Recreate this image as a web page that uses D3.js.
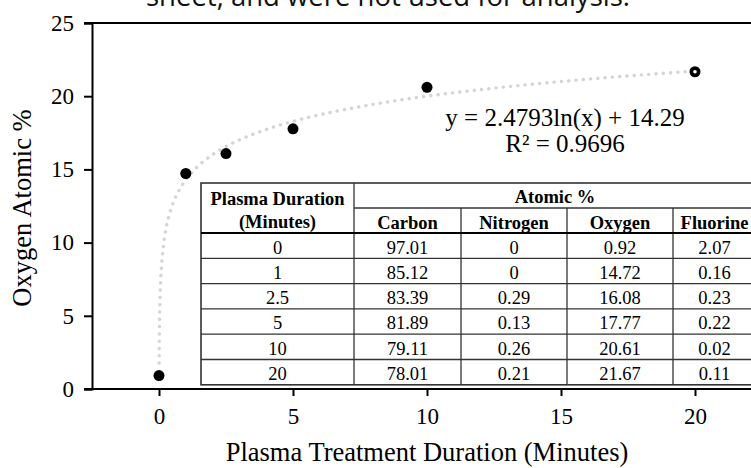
<!DOCTYPE html>
<html>
<head>
<meta charset="utf-8">
<script src="https://cdn.jsdelivr.net/npm/d3@7"></script>
<style>
  body { margin: 0; background: #fff; }
  svg { display: block; }
  text { font-family: "Liberation Serif", "Times New Roman", serif; fill: #000; }
</style>
</head>
<body>
<svg id="chart" width="751" height="468"></svg>
<script>
// data
var durations = [0, 1, 2.5, 5, 10, 20];
var oxygen = [0.92, 14.72, 16.08, 17.77, 20.61, 21.67];
var carbon = [97.01, 85.12, 83.39, 81.89, 79.11, 78.01];
var nitrogen = [0, 0, 0.29, 0.13, 0.26, 0.21];
var fluorine = [2.07, 0.16, 0.23, 0.22, 0.02, 0.11];
var xTicks = [0, 5, 10, 15, 20];
var yTicks = [0, 5, 10, 15, 20, 25];
var elementNames = ['Carbon', 'Nitrogen', 'Oxygen', 'Fluorine'];
// log fit shown on the chart
var fitA = 2.4793, fitB = 14.29, fitR2 = 0.9696;

var svg = d3.select('#chart');

var x = d3.scaleLinear().domain([-2.5, 22.5]).range([92, 762]);
var y = d3.scaleLinear().domain([0, 25]).range([389, 23]);

// cut-off note above the chart (cropped in the picture too)
svg.append('text')
  .attr('x', 388).attr('y', 6)
  .attr('text-anchor', 'middle')
  .style('font-family', '"Open Sans", sans-serif')
  .style('font-size', '27.5px')
  .style('fill', '#111')
  .text('sheet, and were not used for analysis.');

// plot area top border
svg.append('line')
  .attr('x1', 84).attr('x2', 751)
  .attr('y1', y(25)).attr('y2', y(25))
  .attr('stroke', '#000').attr('stroke-width', 2);

// axes
var yAxis = svg.append('g')
  .attr('transform', 'translate(' + x(-2.5) + ',0)')
  .call(d3.axisLeft(y).tickValues(yTicks).tickSize(8).tickPadding(10));
var xAxis = svg.append('g')
  .attr('transform', 'translate(0,' + y(0) + ')')
  .call(d3.axisBottom(x).tickValues(xTicks).tickSize(7).tickPadding(12));

[xAxis, yAxis].forEach(function(g) {
  g.select('.domain').attr('stroke', '#000').attr('stroke-width', 2);
  g.selectAll('.tick line').attr('stroke', '#000').attr('stroke-width', 2);
  g.selectAll('.tick text')
    .style('font-family', '"Liberation Serif", serif')
    .style('font-size', '23px');
});
xAxis.select('.domain').attr('d', 'M84,0H751');

// axis titles
svg.append('text')
  .attr('x', 427).attr('y', 461)
  .attr('text-anchor', 'middle')
  .style('font-size', '26.5px')
  .text('Plasma Treatment Duration (Minutes)');
svg.append('text')
  .attr('transform', 'translate(31,208) rotate(-90)')
  .attr('text-anchor', 'middle')
  .style('font-size', '26.5px')
  .text('Oxygen Atomic %');

// trendline
var fitX = d3.range(0, 201).map(function(i) {
  return Math.exp(Math.log(0.0064) + (Math.log(20) - Math.log(0.0064)) * i / 200);
});
svg.append('path')
  .datum(fitX)
  .attr('fill', 'none')
  .attr('stroke', '#d4d4d4')
  .attr('stroke-width', 3.4)
  .attr('stroke-linecap', 'round')
  .attr('stroke-dasharray', '0.1 7.2')
  .attr('d', d3.line()
    .x(function(d) { return x(d); })
    .y(function(d) { return y(fitA * Math.log(d) + fitB); }));

// data table
var colX = [201, 354, 461, 567, 673, 756];
var tTop = 183, tSub = 208, tHead = 233, rowH = 25.3;
var tBottom = tHead + rowH * durations.length;
var table = svg.append('g');

table.append('rect')
  .attr('x', colX[0]).attr('y', tTop)
  .attr('width', colX[5] - colX[0]).attr('height', tBottom - tTop)
  .attr('fill', '#fff').attr('stroke', '#333').attr('stroke-width', 1.6);

table.append('line')
  .attr('x1', colX[1]).attr('x2', colX[1]).attr('y1', tTop).attr('y2', tBottom)
  .attr('stroke', '#333').attr('stroke-width', 1.3);
table.selectAll('line.sub')
  .data(colX.slice(2, 5))
  .enter().append('line')
  .attr('x1', function(d) { return d; }).attr('x2', function(d) { return d; })
  .attr('y1', tSub).attr('y2', tBottom)
  .attr('stroke', '#333').attr('stroke-width', 1.3);
table.append('line')
  .attr('x1', colX[1]).attr('x2', colX[5]).attr('y1', tSub).attr('y2', tSub)
  .attr('stroke', '#333').attr('stroke-width', 1.3);
table.append('line')
  .attr('x1', colX[0]).attr('x2', colX[5]).attr('y1', tHead).attr('y2', tHead)
  .attr('stroke', '#000').attr('stroke-width', 2.2);
table.selectAll('line.row')
  .data(durations.slice(1))
  .enter().append('line')
  .attr('x1', colX[0]).attr('x2', colX[5])
  .attr('y1', function(d, i) { return tHead + rowH * (i + 1); })
  .attr('y2', function(d, i) { return tHead + rowH * (i + 1); })
  .attr('stroke', '#333').attr('stroke-width', 1.3);

var mid = function(i) { return (colX[i] + colX[i + 1]) / 2; };
var headStyle = function(t) {
  return t.attr('text-anchor', 'middle').style('font-size', '18.5px').style('font-weight', 'bold');
};
headStyle(table.append('text').attr('x', mid(0)).attr('y', 205).text('Plasma Duration'));
headStyle(table.append('text').attr('x', mid(0)).attr('y', 228).text('(Minutes)'));
headStyle(table.append('text').attr('x', (colX[1] + colX[5]) / 2).attr('y', 203).text('Atomic %'));
elementNames.forEach(function(name, i) {
  headStyle(table.append('text').attr('x', mid(i + 1)).attr('y', 228.5).text(name));
});

var columns = [durations, carbon, nitrogen, oxygen, fluorine];
columns.forEach(function(col, c) {
  table.selectAll('text.c' + c)
    .data(col)
    .enter().append('text')
    .attr('x', mid(c))
    .attr('y', function(d, i) { return tHead + rowH * i + 20.5; })
    .attr('text-anchor', 'middle')
    .style('font-size', '18.5px')
    .text(function(d) { return String(d); });
});

// equation
svg.append('text')
  .attr('x', 565).attr('y', 126)
  .attr('text-anchor', 'middle')
  .style('font-size', '25px')
  .text('y = ' + fitA + 'ln(x) + ' + fitB);
svg.append('text')
  .attr('x', 565).attr('y', 152)
  .attr('text-anchor', 'middle')
  .style('font-size', '25px')
  .text('R\u00b2 = ' + fitR2);

// points
svg.selectAll('circle.pt')
  .data(durations)
  .enter().append('circle')
  .attr('class', 'pt')
  .attr('cx', function(d) { return x(d); })
  .attr('cy', function(d, i) { return y(oxygen[i]); })
  .attr('r', 5.5)
  .attr('fill', '#000');
// last marker shows a light centre in the picture
svg.append('circle')
  .attr('cx', x(durations[5])).attr('cy', y(oxygen[5]))
  .attr('r', 1.8).attr('fill', '#fff');
</script>
</body>
</html>
